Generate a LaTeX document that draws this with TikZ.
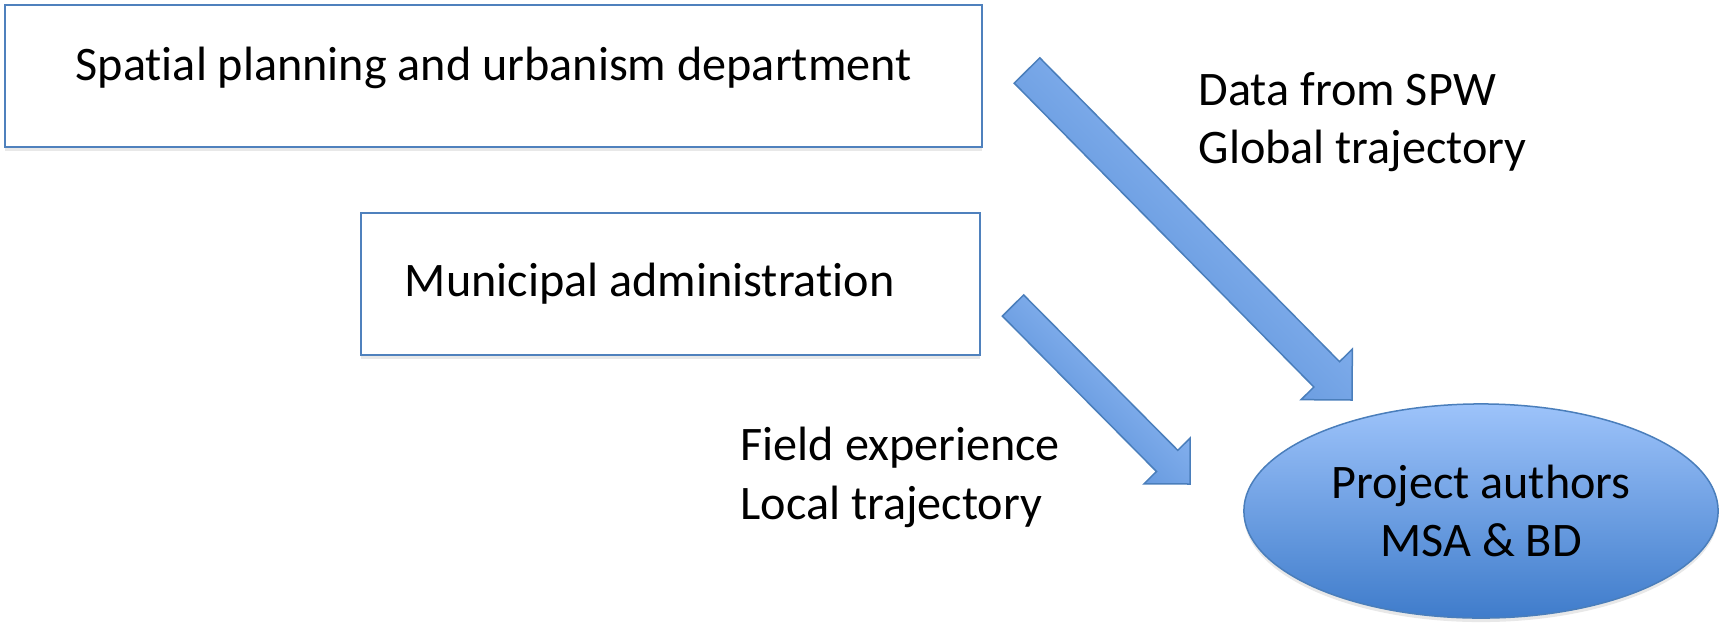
\documentclass[tikz,border=0pt]{standalone}
\usepackage{fontspec}
\setmainfont{Carlito}[Ligatures={NoCommon,NoRequired,NoContextual}]
\usetikzlibrary{calc,shapes.geometric,shadows}

\definecolor{boxline}{HTML}{4F81BD}
\definecolor{arrowline}{HTML}{4A7EBB}
\definecolor{lightblue}{HTML}{9DC3FA}
\definecolor{darkblue}{HTML}{3F7CCB}

% tail, tip, half shaft, half head, head length
\newcommand{\blockarrow}[5]{%
  \coordinate (#1-base) at ($(#2)!#5!(#1)$);
  \shade[arrowshade] ($(#1)!#3!90:(#2)$) -- ($(#1-base)!#3!90:(#2)$)
    -- ($(#1-base)!#4!90:(#2)$) -- (#2) -- ($(#1-base)!#4!-90:(#2)$)
    -- ($(#1-base)!#3!-90:(#2)$) -- ($(#1)!#3!-90:(#2)$) -- cycle;
}

\begin{document}
\begin{tikzpicture}[x=0.01cm, y=0.01cm,
    every node/.style={font=\fontsize{13.7}{16.6}\selectfont},
    planbox/.style={draw=boxline, line width=0.2mm, fill=white, inner sep=0pt,
        drop shadow={shadow xshift=0mm, shadow yshift=-0.45mm, opacity=0.18, fill=gray}},
    arrowshade/.style={draw=arrowline, line width=0.15mm, top color=lightblue,
        bottom color=darkblue!85!lightblue, shading angle=-45}]
    \useasboundingbox (0,0) rectangle (1727,623);

    \node[planbox, minimum width=97.65mm, minimum height=14.1mm, align=center,
        text height=3.6mm, text depth=2.8mm] (spatial) at (493.75,547)
        {Spatial planning and urbanism department};
    \node[planbox, minimum width=61.9mm, minimum height=14.2mm, inner xsep=4.4mm]
        (municipal) at (670.5,339.4)
        {\makebox[53.1mm][l]{Municipal administration}};

    \node[ellipse, draw=arrowline, line width=0.15mm, top color=lightblue, bottom color=darkblue,
        minimum width=47.4mm, minimum height=21.4mm, inner sep=0pt, align=center,
        drop shadow={shadow xshift=0mm, shadow yshift=-0.4mm, opacity=0.18, fill=gray}]
        (authors) at (1481,112) {Project authors\\MSA \& BD};

    \node[anchor=west, inner sep=0pt, align=left] (spw) at (1198,501)
        {Data from SPW\\Global trajectory};
    \node[anchor=west, inner sep=0pt, align=left] (field) at (740,145.5)
        {Field experience\\Local trajectory};

    % block arrows
    \coordinate (spwtail) at (1027,552.5);
    \coordinate (spwtip) at (1352,223);
    \coordinate (munitail) at (1013,317.5);
    \coordinate (munitip) at (1190,139);
    \blockarrow{spwtail}{spwtip}{1.8mm}{3.6mm}{3.6mm}
    \blockarrow{munitail}{munitip}{1.5mm}{3.25mm}{3.25mm}
\end{tikzpicture}
\end{document}
